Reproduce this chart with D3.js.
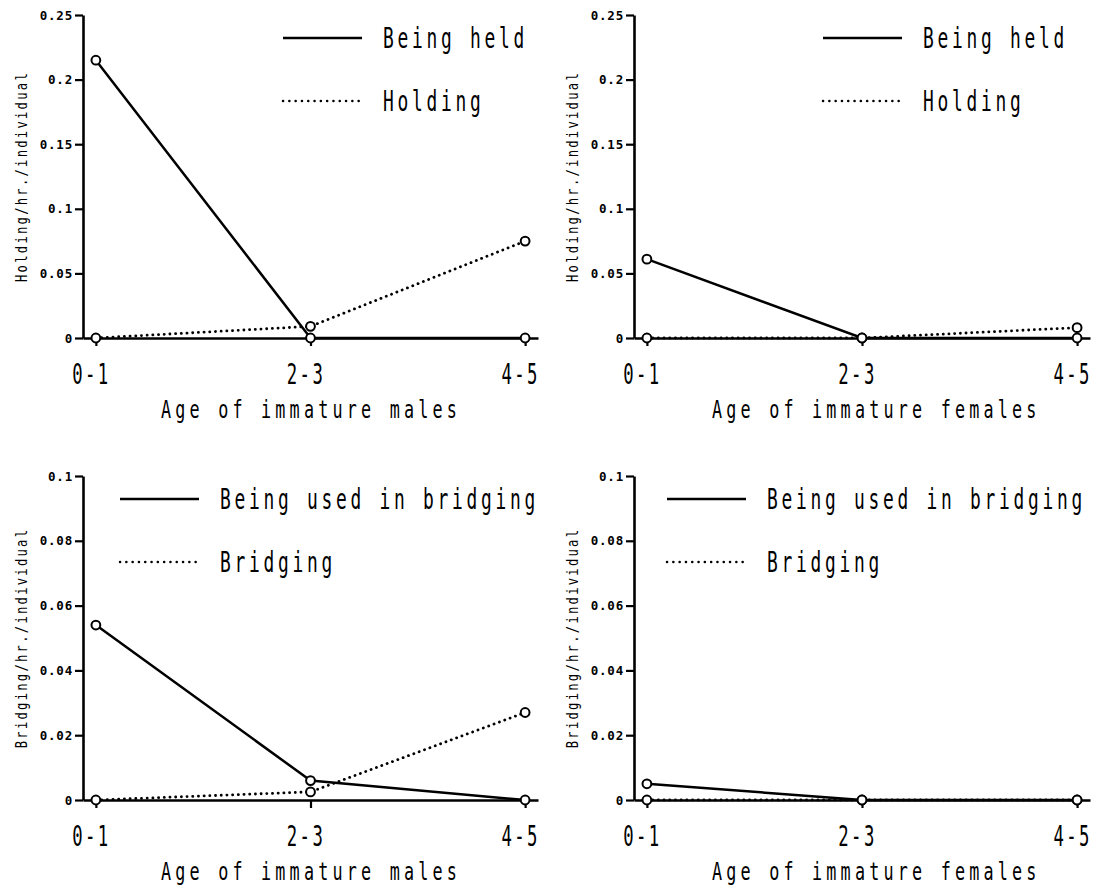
<!DOCTYPE html>
<html>
<head>
<meta charset="utf-8">
<script src="https://cdn.jsdelivr.net/npm/d3@7"></script>
<style>
  body { margin: 0; background: #fff; }
  svg { display: block; }
  .lbl { font-family: "DejaVu Sans Mono", "Liberation Mono", monospace; fill: #000; }
  .tick-lbl { font-family: "DejaVu Sans Mono", "Liberation Mono", monospace; font-weight: bold; }
</style>
</head>
<body>
<svg id="chart" width="1106" height="894"></svg>
<script>
// ---- data ----
const ageGroups = ["0-1", "2-3", "4-5"];

const maleBeingHeld   = [0.215, 0, 0];
const maleHolding     = [0, 0.009, 0.075];
const femaleBeingHeld = [0.061, 0, 0];
const femaleHolding   = [0, 0, 0.008];

const maleBeingUsed   = [0.054, 0.006, 0];
const maleBridging    = [0, 0.0025, 0.027];
const femaleBeingUsed = [0.005, 0, 0];
const femaleBridging  = [0, 0, 0];

const holdingTicks  = [0, 0.05, 0.1, 0.15, 0.2, 0.25];
const bridgingTicks = [0, 0.02, 0.04, 0.06, 0.08, 0.1];

const holdingLegend  = ["Being held", "Holding"];
const bridgingLegend = ["Being used in bridging", "Bridging"];

const svg = d3.select("#chart");

// panel layout
const panels = [
    { left: 83,  top: 15,  w: 455, h: 323, solid: maleBeingHeld,   dotted: maleHolding,    ticks: holdingTicks,  legend: holdingLegend,  legX: 200, yTitle: "Holding/hr./individual",  xTitle: "Age of immature males" },
    { left: 634, top: 15,  w: 456, h: 323, solid: femaleBeingHeld, dotted: femaleHolding,  ticks: holdingTicks,  legend: holdingLegend,  legX: 189, yTitle: "Holding/hr./individual",  xTitle: "Age of immature females" },
    { left: 83,  top: 476, w: 455, h: 324, solid: maleBeingUsed,   dotted: maleBridging,   ticks: bridgingTicks, legend: bridgingLegend, legX: 37,  yTitle: "Bridging/hr./individual", xTitle: "Age of immature males" },
    { left: 634, top: 476, w: 456, h: 324, solid: femaleBeingUsed, dotted: femaleBridging, ticks: bridgingTicks, legend: bridgingLegend, legX: 33,  yTitle: "Bridging/hr./individual", xTitle: "Age of immature females" }
];

// plotter-style lettering: narrow glyphs on a fixed pitch (squeeze horizontally)
function pitch(sel, step, gap) {
    sel.style("letter-spacing", gap + "px").each(function () {
        const k = this.textContent.length * step / this.getComputedTextLength();
        const tx = +this.getAttribute("x") || 0, ty = +this.getAttribute("y") || 0;
        const t = this.getAttribute("transform") || "";
        this.setAttribute("x", 0);
        this.setAttribute("y", 0);
        this.setAttribute("transform", `${t} translate(${tx},${ty}) scale(${k},1)`);
    });
}

panels.forEach(p => {
    const g = svg.append("g").attr("transform", `translate(${p.left},${p.top})`);

    const x = d3.scalePoint().domain(ageGroups).range([0, p.w]).padding(0.06);
    const y = d3.scaleLinear().domain([0, d3.max(p.ticks)]).range([p.h, 0]);

    // y axis
    const yAx = g.append("g")
        .call(d3.axisLeft(y).tickValues(p.ticks).tickSize(8).tickSizeOuter(0).tickPadding(2).tickFormat(d => String(d)));
    yAx.select(".domain").attr("stroke-width", 2.6);
    yAx.selectAll(".tick line").attr("stroke-width", 2.2);
    yAx.selectAll(".tick text").attr("class", "tick-lbl").style("font-size", "12.5px").style("letter-spacing", "0.8px");

    // x axis
    const xAx = g.append("g")
        .attr("transform", `translate(0,${p.h})`)
        .call(d3.axisBottom(x).tickSize(8).tickSizeOuter(0));
    xAx.select(".domain").attr("stroke-width", 2.6);
    xAx.selectAll(".tick line").attr("stroke-width", 2.2);
    xAx.selectAll(".tick text")
        .attr("class", "lbl")
        .attr("x", -5).attr("y", 46).attr("dy", 0)
        .style("font-size", "29px")
        .call(pitch, 12.8, 4);

    // axis titles
    g.append("text").attr("class", "lbl")
        .attr("transform", `translate(-62,${p.h / 2}) rotate(-90)`)
        .attr("text-anchor", "middle").attr("dy", "0.35em")
        .style("font-size", "16px")
        .text(p.yTitle)
        .call(pitch, 9.6, 3);

    g.append("text").attr("class", "lbl")
        .attr("x", 78).attr("y", p.h + 80)
        .style("font-size", "24px")
        .text(p.xTitle)
        .call(pitch, 14.3, 6);

    // lines
    const line = d3.line().x((d, i) => x(ageGroups[i])).y(d => y(d));
    g.append("path").datum(p.solid).attr("d", line)
        .attr("fill", "none").attr("stroke", "#000").attr("stroke-width", 2.5);
    g.append("path").datum(p.dotted).attr("d", line)
        .attr("fill", "none").attr("stroke", "#000").attr("stroke-width", 2.8)
        .attr("stroke-linecap", "round").attr("stroke-dasharray", "0.1,5.6");

    // markers
    [p.dotted, p.solid].forEach(vals => {
        g.selectAll(null).data(vals).join("circle")
            .attr("cx", (d, i) => x(ageGroups[i]))
            .attr("cy", d => y(d))
            .attr("r", 4.4)
            .attr("fill", "#fff").attr("stroke", "#000").attr("stroke-width", 2);
    });

    // legend
    const leg = g.append("g").attr("transform", `translate(${p.legX},0)`);
    p.legend.forEach((name, i) => {
        const ly = i === 0 ? 23 : 86;
        leg.append("line")
            .attr("x1", 0).attr("x2", i === 0 ? 79 : 76)
            .attr("y1", ly).attr("y2", ly)
            .attr("stroke", "#000")
            .attr("stroke-width", i === 0 ? 2.5 : 2.5)
            .attr("stroke-linecap", i === 0 ? "butt" : "round")
            .attr("stroke-dasharray", i === 0 ? null : "0.1,6.2");
        leg.append("text").attr("class", "lbl")
            .attr("x", 100).attr("y", ly).attr("dy", "0.36em")
            .style("font-size", "29px")
            .text(name)
            .call(pitch, 14.5, 6);
    });
});
</script>
</body>
</html>
